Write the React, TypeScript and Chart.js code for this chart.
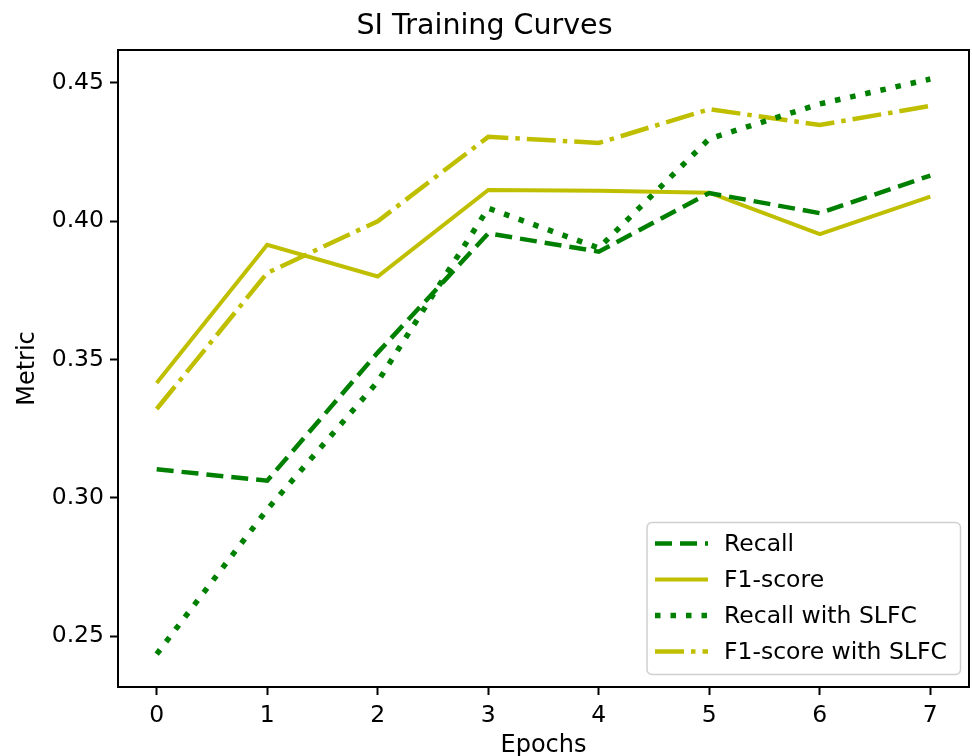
import React, { useEffect, useRef } from "react";
import { Chart, registerables } from "chart.js";

Chart.register(...registerables);

const epochs = [0, 1, 2, 3, 4, 5, 6, 7];
const recall = [0.3103, 0.3062, 0.3525, 0.3956, 0.389, 0.4102, 0.4029, 0.4165];
const f1 = [0.3415, 0.3915, 0.38, 0.4113, 0.411, 0.4103, 0.3953, 0.4089];
const recallSlfc = [0.2435, 0.2958, 0.342, 0.4047, 0.3903, 0.4298, 0.4424, 0.4514];
const f1Slfc = [0.3321, 0.3813, 0.4, 0.4305, 0.4283, 0.4405, 0.4348, 0.4417];
const yTicks = [0.25, 0.3, 0.35, 0.4, 0.45];
const xTicks = [0, 1, 2, 3, 4, 5, 6, 7];

const GREEN = "#008000";
const YELLOW = "#bfbf00";
const FONT = "'DejaVu Sans', sans-serif";

const framePlugin = {
  id: "frame",
  afterDatasetsDraw(chart: any) {
    const { ctx, chartArea: a } = chart;
    ctx.save();
    ctx.strokeStyle = "#000";
    ctx.lineWidth = 2;
    ctx.strokeRect(a.left, a.top, a.right - a.left, a.bottom - a.top);
    ctx.restore();
  },
};

const legendPlugin = {
  id: "innerLegend",
  afterDraw(chart: any) {
    const { ctx } = chart;
    const ds = chart.data.datasets;
    const x0 = 647, y0 = 522.5, w = 313.5, h = 152;
    ctx.save();
    ctx.beginPath();
    const r = 5;
    ctx.moveTo(x0 + r, y0);
    ctx.arcTo(x0 + w, y0, x0 + w, y0 + h, r);
    ctx.arcTo(x0 + w, y0 + h, x0, y0 + h, r);
    ctx.arcTo(x0, y0 + h, x0, y0, r);
    ctx.arcTo(x0, y0, x0 + w, y0, r);
    ctx.closePath();
    ctx.fillStyle = "rgba(255,255,255,0.85)";
    ctx.fill();
    ctx.strokeStyle = "#d0d0d0";
    ctx.lineWidth = 1.5;
    ctx.stroke();
    ds.forEach((d: any, i: number) => {
      const y = 543.5 + i * 36;
      ctx.beginPath();
      ctx.setLineDash(d.borderDash || []);
      ctx.strokeStyle = d.borderColor;
      ctx.lineWidth = d.borderWidth;
      ctx.lineCap = "butt";
      ctx.moveTo(655, y);
      ctx.lineTo(708, y);
      ctx.stroke();
      ctx.setLineDash([]);
      ctx.fillStyle = "#000";
      ctx.font = `23.5px ${FONT}`;
      ctx.textBaseline = "middle";
      ctx.textAlign = "left";
      ctx.fillText(d.label, 724, y + 1);
    });
    ctx.restore();
  },
};

const toPts = (vals: number[]) => epochs.map((e, i) => ({ x: e, y: vals[i] }));

export default function App() {
  const ref = useRef<HTMLCanvasElement | null>(null);
  useEffect(() => {
    if (!ref.current) return;
    const chart = new Chart(ref.current, {
      type: "line",
      data: {
        datasets: [
          { label: "Recall", data: toPts(recall), borderColor: GREEN, borderWidth: 4.5, borderDash: [17, 8], pointRadius: 0, tension: 0, fill: false },
          { label: "F1-score", data: toPts(f1), borderColor: YELLOW, borderWidth: 4, borderDash: [], pointRadius: 0, tension: 0, fill: false },
          { label: "Recall with SLFC", data: toPts(recallSlfc), borderColor: GREEN, borderWidth: 5.5, borderDash: [5.5, 10], pointRadius: 0, tension: 0, fill: false },
          { label: "F1-score with SLFC", data: toPts(f1Slfc), borderColor: YELLOW, borderWidth: 4.5, borderDash: [29, 7, 4.5, 7], pointRadius: 0, tension: 0, fill: false },
        ],
      },
      options: {
        animation: false,
        responsive: false,
        maintainAspectRatio: false,
        layout: { padding: { left: 0, right: 3, top: 0, bottom: 0 } },
        plugins: {
          legend: { display: false },
          tooltip: { enabled: false },
          title: {
            display: true,
            text: "SI Training Curves",
            color: "#000",
            font: { family: FONT, size: 28.5, weight: "normal", lineHeight: 1 },
            padding: { top: 12, bottom: 9.5 },
          },
        },
        scales: {
          x: {
            type: "linear",
            min: -0.35,
            max: 7.35,
            afterBuildTicks: (s: any) => { s.ticks = xTicks.map((v) => ({ value: v })); },
            afterFit: (s: any) => { s.height = 69; },
            border: { display: false },
            grid: { drawOnChartArea: false, drawTicks: true, tickLength: 8, tickColor: "#000", tickWidth: 2 },
            ticks: { color: "#000", padding: 7, font: { family: FONT, size: 23.5 }, maxRotation: 0, callback: (v: any) => String(v) },
            title: { display: true, text: "Epochs", color: "#000", font: { family: FONT, size: 24, lineHeight: 1 }, padding: { top: 0, bottom: -2 } },
          },
          y: {
            type: "linear",
            min: 0.2316,
            max: 0.4619,
            afterBuildTicks: (s: any) => { s.ticks = yTicks.map((v) => ({ value: v })); },
            afterFit: (s: any) => { s.width = 118; },
            border: { display: false },
            grid: { drawOnChartArea: false, drawTicks: true, tickLength: 8, tickColor: "#000", tickWidth: 2 },
            ticks: { color: "#000", padding: 6, font: { family: FONT, size: 23.5 }, callback: (v: any) => Number(v).toFixed(2) },
            title: { display: true, text: "Metric", color: "#000", font: { family: FONT, size: 24, lineHeight: 1 }, padding: { top: 16, bottom: 0 } },
          },
        },
      },
      plugins: [framePlugin, legendPlugin],
    } as any);
    return () => chart.destroy();
  }, []);
  return (
    <div style={{ position: "absolute", left: 0, top: 0, width: 972, height: 756, background: "#fff" }}>
      <canvas ref={ref} width={972} height={756} style={{ display: "block" }} />
    </div>
  );
}
